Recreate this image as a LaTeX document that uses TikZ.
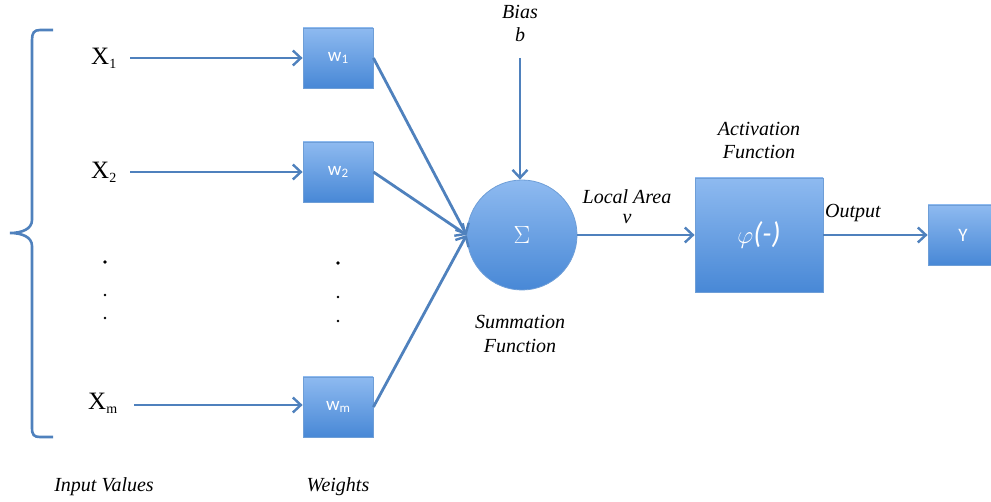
\documentclass[tikz,border=0pt]{standalone}
\usepackage{fontspec}
\setmainfont{Liberation Serif}
\newfontfamily\labfont{Liberation Serif}
\newfontfamily\boxfont{Carlito}
\usetikzlibrary{arrows.meta,shapes.geometric}
\definecolor{arrblue}{RGB}{79,129,189}
\definecolor{boxtop}{RGB}{142,186,240}
\definecolor{boxbot}{RGB}{72,136,214}
\definecolor{boxline}{RGB}{110,158,215}
\tikzset{
  arr/.style={draw=arrblue, line width=2.8pt, -{Straight Barb[length=8pt,width=15pt,line width=2.4pt]}},
  bluebox/.style={rectangle, draw=boxline, line width=0.8pt, top color=boxtop, bottom color=boxbot, text=white, font=\boxfont\fontsize{19}{22}\selectfont, inner sep=0pt},
  wbox/.style={bluebox, minimum width=70pt, minimum height=60pt},
  sumc/.style={circle, draw=boxline, line width=0.8pt, top color=boxtop, bottom color=boxbot, text=white, minimum size=110pt, inner sep=0pt, font=\fontsize{32}{34}\selectfont},
  xlab/.style={font=\labfont\fontsize{25}{27}\selectfont, inner sep=0pt, anchor=west},
  ilab/.style={font=\labfont\itshape\fontsize{20}{22}\selectfont, inner sep=0pt},
  dotn/.style={circle, fill=black, inner sep=0pt}
}
\begin{document}
\begin{tikzpicture}[x=1pt,y=-1pt]
\useasboundingbox (0,0) rectangle (991,502);
\clip (0,0) rectangle (991,502);
% brace
\draw[arrblue, line width=2.6pt] (53,30) -- (40,30) .. controls (34,30) and (32,33) .. (32,40) -- (32,220)
  .. controls (32,229) and (22,233) .. (10,233) .. controls (22,233) and (32,237) .. (32,246)
  -- (32,428) .. controls (32,435) and (34,437) .. (40,437) -- (53,437);
% inputs
\node[xlab] (x1) at (91,58) {X\raisebox{-0.35ex}{\fontsize{14}{14}\selectfont 1}};
\node[xlab] (x2) at (91,172) {X\raisebox{-0.35ex}{\fontsize{14}{14}\selectfont 2}};
\node[xlab] (xm) at (88,403) {X\raisebox{-0.35ex}{\fontsize{14}{14}\selectfont m}};
\node[dotn, minimum size=3.8pt] (d1) at (105,262) {};
\node[dotn, minimum size=2.6pt] (d2) at (105,295) {};
\node[dotn, minimum size=2.6pt] (d3) at (105,318) {};
\node[dotn, minimum size=3.8pt] (e1) at (338,263) {};
\node[dotn, minimum size=2.6pt] (e2) at (338,297) {};
\node[dotn, minimum size=2.6pt] (e3) at (338,321) {};
% weights
\node[wbox] (w1) at (338,58) {w\raisebox{-0.3ex}{\fontsize{13}{13}\selectfont 1}};
\node[wbox] (w2) at (338,172) {w\raisebox{-0.3ex}{\fontsize{13}{13}\selectfont 2}};
\node[wbox] (wm) at (338,407) {w\raisebox{-0.3ex}{\fontsize{13}{13}\selectfont m}};
\coordinate (s1) at (130,58);
\coordinate (s2) at (130,172);
\coordinate (sm) at (134,405);
\draw[arr] (s1) -- (w1.west);
\draw[arr] (s2) -- (w2.west);
\draw[arr] (sm) -- (wm.west|-sm);
% summation
\node[sumc] (s) at (522,235) {$\Sigma$};
\draw[arr] (w1.east) -- (s.west);
\draw[arr] (w2.east) -- (s.west);
\draw[arr] (wm.east) -- (s.west);
\node[ilab] (bias) at (520,12) {Bias};
\node[ilab] (bb) at (520,35) {b};
\coordinate (bt) at (520,58);
\draw[arr] (bt) -- (bt|-s.north);
\node[ilab] (sf1) at (520,322) {Summation};
\node[ilab] (sf2) at (520,346) {Function};
% activation
\node[bluebox, minimum width=128pt, minimum height=114pt, font=\boxfont\itshape\fontsize{30}{32}\selectfont] (act) at (759,235) {$\varphi$(-)};
\draw[arr] (s.east) -- (act.west);
\node[ilab] (la) at (627,197) {Local Area};
\node[ilab] (lv) at (627,219) {v};
\node[ilab] (af1) at (759,129) {Activation};
\node[ilab] (af2) at (759,152) {Function};
% output
\node[wbox] (y) at (963,235) {Y};
\draw[arr] (act.east) -- (y.west);
\node[ilab] (out) at (853,213) {Output};
% bottom labels
\node[ilab] (iv) at (104,487) {Input Values};
\node[ilab] (wt) at (338,487) {Weights};
\end{tikzpicture}
\end{document}
